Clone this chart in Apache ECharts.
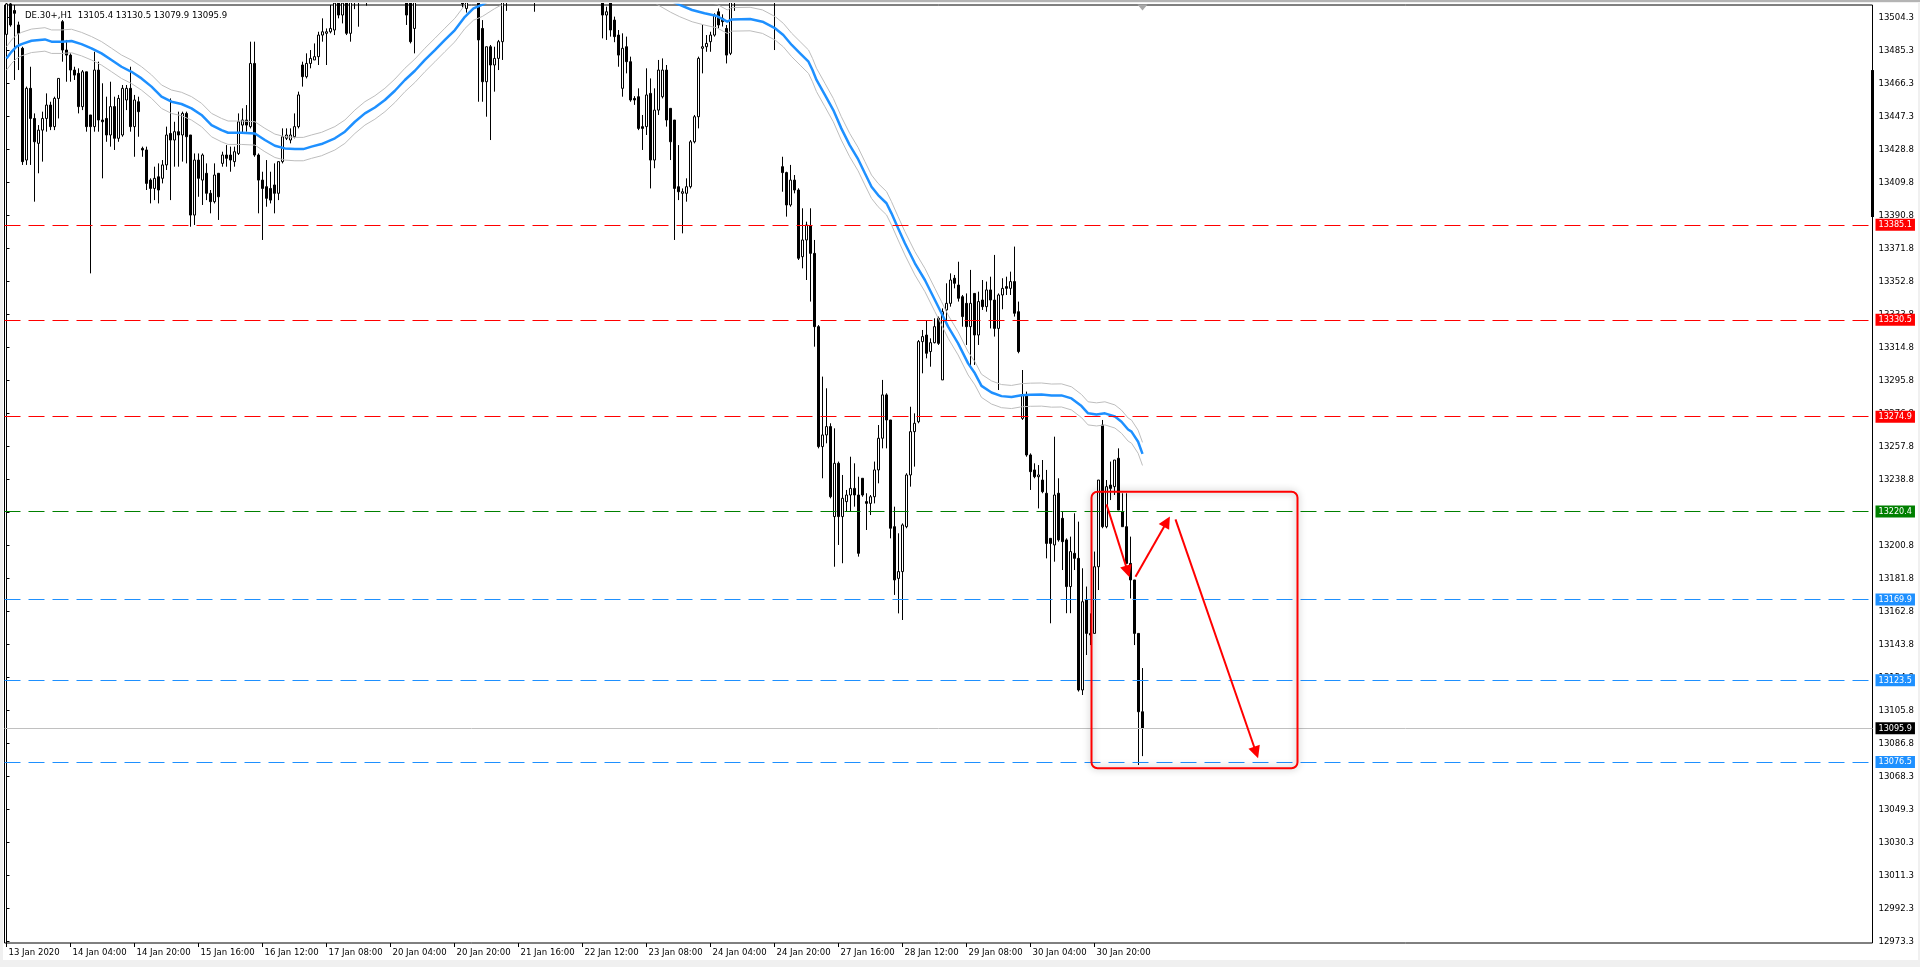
<!DOCTYPE html>
<html>
<head>
<meta charset="utf-8">
<title>DE.30+,H1</title>
<script src="https://cdn.jsdelivr.net/npm/echarts@6/dist/echarts.min.js"></script>
<style>
  html, body { margin: 0; padding: 0; width: 1920px; height: 967px; overflow: hidden; background: #f0f0f0; }
  #topbar { position: absolute; left: 0; top: 0; width: 1920px; height: 2px; background: #b4b4b4; }
  #chart { position: absolute; left: 3px; top: 3px; width: 1915px; height: 957px; background: #fff; }
</style>
</head>
<body>
<div id="topbar"></div>
<div id="chart"></div>
<script>
// header text as shown by the terminal
const headerText = 'DE.30+,H1  13105.4 13130.5 13079.9 13095.9'

// time axis labels and the bar each one sits on
const xTickLabels = ['13 Jan 2020', '14 Jan 04:00', '14 Jan 20:00', '15 Jan 16:00', '16 Jan 12:00', '17 Jan 08:00',
  '20 Jan 04:00', '20 Jan 20:00', '21 Jan 16:00', '22 Jan 12:00', '23 Jan 08:00', '24 Jan 04:00', '24 Jan 20:00',
  '27 Jan 16:00', '28 Jan 12:00', '29 Jan 08:00', '30 Jan 04:00', '30 Jan 20:00']
const xTickBars = [0, 16, 32, 48, 64, 80, 96, 112, 128, 144, 160, 176, 192, 208, 224, 240, 256, 272]

// price scale labels, bottom to top
const yTickLabels = ['12973.3', '12992.3', '13011.3', '13030.3', '13049.3', '13068.3', '13086.8', '13105.8',
  '13124.8', '13143.8', '13162.8', '13181.8', '13200.8', '13219.8', '13238.8', '13257.8', '13276.8', '13295.8',
  '13314.8', '13333.8', '13352.8', '13371.8', '13390.8', '13409.8', '13428.8', '13447.3', '13466.3', '13485.3', '13504.3']

// H1 candles: [open, close, low, high]
const candles = [
  [13494.5, 13512.0, 13493.2, 13515.0], [13512.0, 13499.9, 13498.9, 13514.0], [13508.2, 13506.6, 13468.3, 13511.4],
  [13499.9, 13495.1, 13474.0, 13501.8], [13486.5, 13421.4, 13419.5, 13487.4], [13422.3, 13463.5, 13419.5, 13464.5],
  [13463.5, 13446.2, 13419.5, 13475.9], [13446.2, 13432.8, 13398.4, 13449.1], [13431.9, 13439.5, 13414.7, 13442.4],
  [13439.5, 13446.2, 13421.4, 13450.1], [13446.2, 13453.9, 13438.6, 13460.6], [13453.9, 13441.5, 13439.5, 13455.8],
  [13441.5, 13457.7, 13439.5, 13458.7], [13457.7, 13469.2, 13446.2, 13469.2], [13501.8, 13485.5, 13478.8, 13502.7],
  [13485.5, 13482.6, 13467.3, 13491.3], [13482.6, 13474.0, 13467.3, 13483.6], [13474.0, 13471.1, 13468.3, 13475.9],
  [13472.1, 13453.0, 13449.1, 13475.0], [13453.0, 13473.0, 13451.0, 13474.0], [13473.0, 13441.5, 13438.6, 13473.0],
  [13448.2, 13441.5, 13357.2, 13448.2], [13441.5, 13474.0, 13438.6, 13484.5], [13474.0, 13445.3, 13438.6, 13478.8],
  [13445.3, 13444.3, 13411.8, 13466.4], [13446.2, 13436.7, 13432.8, 13458.7], [13436.7, 13453.0, 13430.0, 13467.3],
  [13453.0, 13434.8, 13428.1, 13458.7], [13434.8, 13457.7, 13432.8, 13459.7], [13436.7, 13463.5, 13435.7, 13465.4],
  [13456.8, 13463.5, 13451.0, 13465.4], [13463.5, 13441.5, 13438.6, 13475.9], [13441.5, 13456.8, 13424.2, 13459.7],
  [13455.8, 13450.1, 13435.7, 13458.7], [13429.0, 13428.1, 13424.2, 13430.0], [13428.1, 13408.9, 13405.1, 13430.0],
  [13410.8, 13406.0, 13397.4, 13411.8], [13406.0, 13411.8, 13399.3, 13418.5], [13412.7, 13405.1, 13397.4, 13420.4],
  [13411.8, 13419.5, 13408.9, 13422.3], [13419.5, 13436.7, 13416.6, 13441.5], [13437.6, 13433.8, 13399.3, 13457.7],
  [13433.8, 13438.6, 13418.5, 13444.3], [13438.6, 13436.7, 13418.5, 13450.1], [13436.7, 13449.1, 13421.4, 13450.1],
  [13449.1, 13435.7, 13420.4, 13450.1], [13436.7, 13390.7, 13384.0, 13436.7], [13390.7, 13422.3, 13385.0, 13426.1],
  [13422.3, 13411.8, 13401.2, 13426.1], [13410.8, 13425.2, 13396.5, 13426.1], [13414.7, 13403.2, 13399.3, 13420.4],
  [13403.2, 13398.4, 13391.7, 13405.1], [13398.4, 13413.7, 13397.4, 13420.4], [13414.7, 13401.2, 13387.9, 13414.7],
  [13420.4, 13425.2, 13418.5, 13427.1], [13425.2, 13423.3, 13418.5, 13430.9], [13425.2, 13422.3, 13415.6, 13430.0],
  [13421.4, 13427.1, 13418.5, 13430.0], [13426.1, 13444.3, 13425.2, 13449.1], [13442.4, 13445.3, 13437.6, 13452.0],
  [13445.3, 13442.4, 13438.6, 13453.9], [13441.5, 13477.8, 13440.5, 13490.3], [13477.8, 13425.2, 13424.2, 13490.3],
  [13425.2, 13410.8, 13391.7, 13426.1], [13410.8, 13406.0, 13376.4, 13415.6], [13407.0, 13400.3, 13395.5, 13422.3],
  [13406.0, 13399.3, 13397.4, 13415.6], [13408.0, 13403.2, 13391.7, 13420.4], [13403.2, 13421.4, 13399.3, 13421.4],
  [13421.4, 13435.7, 13420.4, 13440.5], [13434.8, 13436.7, 13433.8, 13440.5], [13433.8, 13436.7, 13431.9, 13440.5],
  [13435.7, 13441.5, 13434.8, 13449.1], [13441.5, 13459.7, 13440.5, 13461.6], [13476.9, 13470.2, 13464.5, 13478.8],
  [13470.2, 13477.8, 13469.2, 13483.6], [13477.8, 13480.7, 13475.0, 13485.5], [13479.8, 13481.7, 13479.8, 13489.3],
  [13481.7, 13494.1, 13476.9, 13496.0], [13494.1, 13496.0, 13490.3, 13503.7], [13495.1, 13496.0, 13476.9, 13497.9],
  [13496.0, 13497.9, 13495.1, 13511.4], [13497.0, 13512.5, 13494.1, 13516.0], [13513.0, 13505.6, 13503.7, 13517.0],
  [13505.6, 13512.5, 13500.8, 13515.0], [13514.0, 13495.1, 13494.1, 13518.0], [13495.1, 13513.0, 13490.3, 13518.0],
  [13513.0, 13520.0, 13509.0, 13524.0], [13520.0, 13514.0, 13498.9, 13523.0], [13514.0, 13522.0, 13512.0, 13526.0],
  [13522.0, 13518.0, 13511.0, 13528.0], [13518.0, 13525.0, 13512.0, 13530.0], [13525.0, 13521.0, 13512.0, 13529.0],
  [13521.0, 13528.0, 13514.0, 13533.0], [13530.0, 13534.0, 13525.0, 13538.0], [13534.0, 13531.0, 13526.0, 13537.0],
  [13531.0, 13536.0, 13528.0, 13540.0], [13536.0, 13533.0, 13527.0, 13539.0], [13533.0, 13538.0, 13530.0, 13542.0],
  [13538.0, 13530.0, 13522.0, 13541.0], [13525.0, 13505.6, 13499.9, 13530.0], [13520.0, 13490.3, 13489.3, 13524.0],
  [13497.9, 13516.0, 13483.6, 13520.0], [13516.0, 13525.0, 13512.0, 13529.0], [13525.0, 13530.0, 13519.0, 13535.0],
  [13530.0, 13527.0, 13521.0, 13534.0], [13527.0, 13535.0, 13523.0, 13539.0], [13535.0, 13532.0, 13526.0, 13538.0],
  [13532.0, 13538.0, 13528.0, 13542.0], [13538.0, 13541.0, 13533.0, 13546.0], [13541.0, 13536.0, 13530.0, 13545.0],
  [13536.0, 13542.0, 13532.0, 13547.0], [13542.0, 13539.0, 13533.0, 13546.0], [13539.0, 13544.0, 13535.0, 13549.0],
  [13526.0, 13512.0, 13510.0, 13530.0], [13509.4, 13520.0, 13507.0, 13524.0], [13520.0, 13526.0, 13515.0, 13530.0],
  [13526.0, 13522.0, 13515.0, 13529.0], [13522.0, 13491.3, 13455.8, 13525.0], [13497.9, 13467.3, 13455.8, 13502.7],
  [13467.3, 13487.4, 13447.2, 13487.4], [13487.4, 13476.9, 13433.8, 13488.4], [13476.9, 13480.7, 13461.6, 13487.4],
  [13480.7, 13490.3, 13474.0, 13491.3], [13490.3, 13513.0, 13479.8, 13518.0], [13513.0, 13522.0, 13508.0, 13526.0],
  [13522.0, 13528.0, 13517.0, 13532.0], [13528.0, 13524.0, 13518.0, 13531.0], [13524.0, 13532.0, 13520.0, 13536.0],
  [13532.0, 13529.0, 13523.0, 13535.0], [13529.0, 13535.0, 13525.0, 13539.0], [13535.0, 13527.0, 13520.0, 13538.0],
  [13527.0, 13518.0, 13507.5, 13530.0], [13518.0, 13524.0, 13514.0, 13528.0], [13530.0, 13536.0, 13526.0, 13540.0],
  [13536.0, 13541.0, 13531.0, 13545.0], [13541.0, 13538.0, 13532.0, 13544.0], [13538.0, 13544.0, 13534.0, 13548.0],
  [13544.0, 13540.0, 13535.0, 13547.0], [13540.0, 13546.0, 13536.0, 13550.0], [13546.0, 13542.0, 13537.0, 13549.0],
  [13542.0, 13537.0, 13530.0, 13545.0], [13537.0, 13541.0, 13532.0, 13545.0], [13541.0, 13534.0, 13528.0, 13543.0],
  [13534.0, 13539.0, 13529.0, 13543.0], [13539.0, 13531.0, 13525.0, 13541.0], [13531.0, 13526.0, 13519.0, 13534.0],
  [13526.0, 13520.0, 13514.0, 13529.0], [13520.0, 13516.0, 13512.0, 13524.0], [13516.0, 13505.6, 13492.2, 13522.0],
  [13505.6, 13507.5, 13491.3, 13510.4], [13513.0, 13497.0, 13493.2, 13518.0], [13502.7, 13493.2, 13490.0, 13504.7],
  [13494.1, 13482.6, 13475.9, 13497.0], [13463.5, 13486.5, 13458.7, 13495.1], [13487.4, 13478.8, 13472.1, 13493.2],
  [13478.8, 13456.8, 13455.8, 13481.7], [13457.7, 13456.8, 13454.0, 13459.0], [13458.7, 13440.5, 13439.5, 13463.5],
  [13441.5, 13440.5, 13428.1, 13448.2], [13441.5, 13459.7, 13436.7, 13475.0], [13460.6, 13422.3, 13406.0, 13469.2],
  [13422.3, 13451.0, 13417.6, 13463.5], [13451.0, 13474.0, 13448.2, 13479.8], [13458.7, 13474.0, 13457.7, 13480.7],
  [13474.0, 13445.3, 13441.5, 13476.9], [13452.0, 13432.8, 13422.3, 13452.0], [13445.3, 13406.0, 13376.4, 13445.3],
  [13407.0, 13404.1, 13399.3, 13430.9], [13403.2, 13404.1, 13380.2, 13406.0], [13403.2, 13407.0, 13398.4, 13411.8],
  [13407.0, 13432.8, 13406.0, 13433.8], [13432.8, 13447.2, 13431.9, 13448.2], [13447.2, 13480.7, 13440.5, 13481.7],
  [13486.5, 13487.4, 13472.1, 13499.9], [13487.4, 13489.3, 13484.5, 13494.1], [13490.3, 13494.1, 13484.5, 13496.0],
  [13494.1, 13505.6, 13493.2, 13506.6], [13507.5, 13499.9, 13497.9, 13509.4], [13503.7, 13501.8, 13499.0, 13506.0],
  [13497.9, 13482.6, 13477.8, 13499.9], [13483.6, 13513.0, 13482.6, 13518.0], [13513.0, 13522.0, 13508.0, 13526.0],
  [13522.0, 13530.0, 13518.0, 13534.0], [13530.0, 13537.0, 13525.0, 13541.0], [13537.0, 13534.0, 13528.0, 13540.0],
  [13534.0, 13541.0, 13530.0, 13545.0], [13541.0, 13547.0, 13536.0, 13551.0], [13547.0, 13543.0, 13537.0, 13550.0],
  [13543.0, 13548.0, 13539.0, 13553.0], [13548.0, 13540.0, 13534.0, 13551.0], [13540.0, 13532.0, 13524.0, 13543.0],
  [13532.0, 13520.0, 13485.5, 13536.0], [13520.0, 13526.0, 13514.0, 13529.0], [13418.5, 13415.1, 13404.1, 13424.2],
  [13415.1, 13396.5, 13389.8, 13415.6], [13396.5, 13410.8, 13395.5, 13419.5], [13410.8, 13405.1, 13403.2, 13413.7],
  [13405.1, 13365.9, 13364.9, 13406.1], [13366.8, 13376.4, 13360.1, 13394.6], [13376.4, 13385.0, 13353.4, 13386.9],
  [13384.4, 13368.7, 13341.0, 13394.6], [13368.7, 13326.6, 13315.1, 13376.4], [13326.6, 13257.7, 13256.7, 13327.5],
  [13257.7, 13264.4, 13239.5, 13297.9], [13264.4, 13269.2, 13259.6, 13291.2], [13269.2, 13228.9, 13228.0, 13271.1],
  [13217.5, 13248.1, 13188.7, 13268.2], [13248.1, 13217.5, 13201.2, 13249.1], [13217.5, 13228.0, 13190.7, 13241.4],
  [13226.1, 13229.9, 13220.3, 13232.8], [13229.9, 13233.7, 13220.3, 13251.9], [13233.7, 13229.9, 13223.2, 13248.1],
  [13229.9, 13196.4, 13194.5, 13240.4], [13239.5, 13229.9, 13228.9, 13239.5], [13226.1, 13225.1, 13209.8, 13230.9],
  [13225.1, 13228.9, 13218.4, 13229.9], [13228.9, 13244.3, 13225.1, 13249.1], [13244.3, 13262.5, 13236.6, 13270.1],
  [13262.5, 13287.4, 13256.7, 13296.0], [13287.4, 13273.0, 13256.7, 13288.3], [13273.0, 13210.8, 13205.0, 13273.0],
  [13211.7, 13181.1, 13172.5, 13223.2], [13182.0, 13185.9, 13161.9, 13207.9], [13185.9, 13212.7, 13158.1, 13213.6],
  [13211.7, 13241.4, 13210.8, 13242.4], [13241.4, 13266.3, 13234.7, 13280.6], [13266.3, 13271.1, 13246.2, 13276.8],
  [13272.0, 13318.0, 13271.1, 13318.9], [13318.0, 13320.9, 13299.8, 13324.7], [13321.8, 13311.3, 13308.4, 13330.4],
  [13312.3, 13317.4, 13303.6, 13319.9], [13317.4, 13326.6, 13317.0, 13331.4], [13331.4, 13317.0, 13316.1, 13332.4],
  [13296.0, 13335.2, 13296.0, 13337.1], [13336.2, 13340.0, 13330.4, 13351.5], [13340.0, 13353.4, 13338.1, 13357.2],
  [13354.4, 13351.5, 13348.6, 13356.3], [13350.5, 13342.9, 13341.0, 13363.9], [13343.8, 13332.4, 13326.6, 13344.8],
  [13340.0, 13326.6, 13316.1, 13345.7], [13326.6, 13340.0, 13303.6, 13359.2], [13345.7, 13321.8, 13304.6, 13345.7],
  [13321.8, 13341.0, 13316.1, 13346.7], [13341.9, 13338.1, 13336.2, 13353.4], [13338.1, 13347.7, 13335.2, 13352.5],
  [13347.7, 13341.9, 13325.6, 13355.3], [13341.9, 13325.6, 13320.9, 13367.8], [13325.6, 13344.8, 13290.2, 13345.7],
  [13344.8, 13348.6, 13336.6, 13354.4], [13349.6, 13348.6, 13344.8, 13355.3], [13348.6, 13352.5, 13344.8, 13358.2],
  [13352.5, 13334.3, 13332.4, 13372.6], [13335.2, 13312.3, 13311.3, 13341.0], [13273.9, 13287.4, 13273.0, 13301.7],
  [13287.4, 13252.9, 13251.9, 13289.3], [13252.9, 13243.3, 13232.8, 13253.8], [13244.3, 13240.4, 13239.5, 13248.1],
  [13240.4, 13241.4, 13222.2, 13247.1], [13238.5, 13231.8, 13230.9, 13250.0], [13230.9, 13202.1, 13193.5, 13244.3],
  [13205.0, 13202.1, 13156.2, 13205.0], [13201.2, 13229.9, 13191.6, 13263.4], [13230.9, 13204.1, 13203.1, 13239.5],
  [13216.5, 13203.1, 13186.8, 13220.3], [13204.1, 13177.3, 13162.0, 13205.0], [13177.3, 13197.4, 13162.0, 13206.0],
  [13196.4, 13193.5, 13186.8, 13219.4], [13193.5, 13117.9, 13117.0, 13214.6], [13117.9, 13168.6, 13115.0, 13187.8],
  [13169.6, 13150.4, 13138.0, 13177.3], [13150.4, 13149.5, 13143.7, 13161.9], [13150.4, 13188.7, 13150.4, 13197.4],
  [13188.7, 13238.5, 13175.3, 13238.5], [13270.1, 13211.7, 13210.8, 13273.0], [13211.7, 13234.7, 13210.8, 13238.5],
  [13235.6, 13233.7, 13227.0, 13249.1], [13234.7, 13250.0, 13229.9, 13250.0], [13251.0, 13221.3, 13221.3, 13256.7],
  [13220.3, 13211.7, 13211.7, 13230.9], [13211.7, 13190.6, 13190.6, 13230.9], [13190.6, 13181.1, 13170.5, 13206.0],
  [13181.1, 13150.4, 13143.7, 13181.1], [13150.4, 13105.4, 13074.8, 13150.4], [13105.4, 13095.9, 13079.9, 13130.5]
]

// moving average: bar position and value
const maBars = [0, 1.25, 2.5, 3.75, 6.25, 9.6, 11.25, 13.75, 16.25, 18.75, 21.25, 23.75, 26.25, 28.75, 31.25, 33.75,
  36.25, 38.75, 41.25, 43.75, 46.25, 48.75, 51.25, 53.75, 55.4, 58.75, 62.1, 64.6, 67.1, 69.6, 72.1, 74.2, 76.25,
  78.75, 82.1, 84.6, 87.1, 89.6, 92.1, 94.6, 97.1, 99.6, 102.1, 104.6, 107.1, 109.6, 112.1, 114.6, 116.75, 119,
  122, 130, 140, 150, 160, 166, 168.3, 171.4, 174.5, 177.6, 180.2, 181.3, 185.9, 189, 192.2, 194.2, 196.3, 198.4,
  200.5, 201.5, 202.5, 204.6, 206.7, 208.7, 210.8, 212.9, 214.6, 216.25, 217.9, 220, 221.25, 222.9, 224.6, 227.1,
  229.6, 232.1, 233.75, 235.4, 237.9, 240.4, 242.1, 243.75, 246.25, 248.75, 251.25, 253.75, 256, 258.75, 261.25,
  263.75, 266.25, 268.75, 270.4, 272.5, 274.6, 277.1, 278.75, 280.4, 281.25, 282.9, 284]
const maValues = [13480.7, 13484.5, 13487.4, 13488.9, 13490.8, 13491.6, 13490.3, 13490.3, 13490.7, 13488.9, 13486.5,
  13483.6, 13479.8, 13475.9, 13473.0, 13469.2, 13464.5, 13458.7, 13455.8, 13454.5, 13452.0, 13448.2, 13442.4, 13439.5,
  13438.0, 13438.0, 13437.6, 13433.8, 13430.5, 13429.0, 13428.6, 13428.6, 13430.0, 13431.5, 13434.8, 13438.6, 13444.3,
  13449.1, 13452.5, 13456.8, 13462.1, 13468.3, 13473.6, 13479.8, 13485.5, 13491.3, 13497.0, 13504.6, 13509.4, 13511.6,
  13516.0, 13526.0, 13531.0, 13530.0, 13522.0, 13514.0, 13511.4, 13508.5, 13506.6, 13505.0, 13501.8, 13503.1, 13503.3,
  13501.8, 13497.9, 13494.1, 13488.4, 13483.6, 13478.8, 13474.0, 13468.3, 13459.7, 13451.0, 13440.5, 13430.9, 13422.8,
  13414.7, 13407.0, 13402.2, 13397.5, 13391.7, 13383.1, 13374.5, 13363.0, 13353.4, 13341.9, 13334.3, 13326.6, 13317.0,
  13305.5, 13299.8, 13292.6, 13288.8, 13286.7, 13286.2, 13287.2, 13287.5, 13287.6, 13287.0, 13287.1, 13285.4, 13281.0,
  13276.8, 13276.2, 13276.8, 13275.0, 13272.0, 13267.5, 13266.3, 13260.5, 13253.5]
const envelopePct = 0.05

// horizontal levels drawn on the chart
const resistanceLevels = [13385.1, 13330.5, 13274.9]
const pivotLevels = [13220.4]
const supportLevels = [13169.9, 13123.5, 13076.5]
const bidPrice = 13095.9

// hand-drawn projection: box [barFrom, priceTop, barTo, priceBottom] and arrows [[bar, price], [bar, price]]
const projectionBox = [271.25, 13231.8, 322.75, 13072.9]
const projectionArrows = [
  [[275.0, 13224.5], [280.3, 13186.0]],
  [[282.25, 13183.0], [290.1, 13214.6]],
  [[292.25, 13215.9], [312.4, 13082.0]]
]
// highlighted stretch of the price scale and the chart-shift marker
const scaleMarker = [13474.0, 13389.6]
const shiftMarker = [284, 13509.9]

const FONT = "'DejaVu Sans Condensed', 'Liberation Sans', sans-serif"
const N_SLOTS = 467
const yMin = 12972.56
const yMax = 13511.37
const yFirstTick = Number(yTickLabels[0])
const yTickStep = (Number(yTickLabels[yTickLabels.length - 1]) - yFirstTick) / (yTickLabels.length - 1)
const yTickVals = yTickLabels.map((t, k) => yFirstTick + k * yTickStep)

const categories = Array.from({ length: N_SLOTS }, (_, i) => String(i))
const labelAt = {}
xTickBars.forEach((b, k) => { labelAt[b] = xTickLabels[k] })
const showAt = (idx) => labelAt[idx] !== undefined

const maData = maBars.map((b, i) => [b, maValues[i]])
const upperData = maBars.map((b, i) => [b, maValues[i] * (1 + envelopePct / 100)])
const lowerData = maBars.map((b, i) => [b, maValues[i] * (1 - envelopePct / 100)])

function levelLine(value, color, type, labelBg) {
  return {
    yAxis: value,
    lineStyle: { color: color, type: type, width: 1 },
    label: {
      show: true,
      position: 'end',
      distance: 3,
      formatter: () => value.toFixed(1),
      color: '#fff',
      backgroundColor: labelBg,
      padding: [2, 3, 1, 3],
      fontSize: 9,
      fontFamily: FONT
    }
  }
}

const levelData = []
resistanceLevels.forEach(v => levelData.push(levelLine(v, '#FF0000', [16, 8], '#FF0000')))
pivotLevels.forEach(v => levelData.push(levelLine(v, '#008000', [16, 8], '#008000')))
supportLevels.forEach(v => levelData.push(levelLine(v, '#1E90FF', [16, 8], '#1E90FF')))
levelData.push(levelLine(bidPrice, '#C0C0C0', 'solid', '#000'))

const chart = echarts.init(document.getElementById('chart'))
const option = {
  animation: false,
  backgroundColor: '#fff',
  title: {
    text: headerText,
    left: 17,
    top: 3,
    textStyle: { fontSize: 9.5, fontWeight: 'normal', color: '#000', fontFamily: FONT }
  },
  grid: {
    left: 1.5,
    right: 45.5,
    top: 2,
    bottom: 17,
    show: true,
    borderColor: '#000',
    borderWidth: 1,
    backgroundColor: '#fff'
  },
  xAxis: [
    {
      type: 'category',
      data: categories,
      boundaryGap: true,
      axisLine: { show: false },
      axisTick: { show: true, alignWithLabel: true, interval: showAt, length: 4, lineStyle: { color: '#000' } },
      axisLabel: {
        interval: showAt,
        formatter: (v, idx) => labelAt[idx] || '',
        align: 'left',
        margin: 5,
        padding: [0, 0, 0, 2],
        color: '#000',
        fontSize: 9.5,
        fontFamily: FONT
      },
      splitLine: { show: false }
    },
    { type: 'value', min: -0.5, max: N_SLOTS - 0.5, show: false }
  ],
  yAxis: {
    type: 'value',
    position: 'right',
    min: yMin,
    max: yMax,
    axisLine: { show: true, lineStyle: { color: '#000' } },
    axisTick: { show: true, customValues: yTickVals, length: 3, lineStyle: { color: '#000' } },
    axisLabel: {
      customValues: yTickVals,
      formatter: (v) => yTickLabels[Math.round((v - yFirstTick) / yTickStep)],
      margin: 6,
      color: '#000',
      fontSize: 9.5,
      fontFamily: FONT
    },
    splitLine: { show: false }
  },
  series: [
    {
      name: 'DE.30+',
      type: 'candlestick',
      xAxisIndex: 0,
      data: candles.map(c => [c[0], c[1], c[2], c[3]]),
      barWidth: 2,
      clip: true,
      z: 2,
      itemStyle: {
        color: '#fff',
        color0: '#000',
        borderColor: '#000',
        borderColor0: '#000',
        borderColorDoji: '#000',
        borderWidth: 1
      },
      markLine: {
        silent: true,
        symbol: ['none', 'none'],
        animation: false,
        data: levelData
      }
    },
    {
      name: 'Envelope upper',
      type: 'line',
      xAxisIndex: 1,
      data: upperData,
      symbol: 'none',
      silent: true,
      clip: true,
      z: 3,
      lineStyle: { color: '#BDBDBD', width: 1 }
    },
    {
      name: 'Envelope lower',
      type: 'line',
      xAxisIndex: 1,
      data: lowerData,
      symbol: 'none',
      silent: true,
      clip: true,
      z: 3,
      lineStyle: { color: '#BDBDBD', width: 1 }
    },
    {
      name: 'MA',
      type: 'line',
      xAxisIndex: 1,
      data: maData,
      symbol: 'none',
      silent: true,
      clip: true,
      z: 4,
      lineStyle: { color: '#1E90FF', width: 2.5 },
      markLine: {
        silent: true,
        symbol: ['none', 'none'],
        label: { show: false },
        lineStyle: { color: '#000', width: 3, type: 'solid' },
        data: [[{ coord: [N_SLOTS - 0.5, scaleMarker[0]] }, { coord: [N_SLOTS - 0.5, scaleMarker[1]] }]]
      },
      markPoint: {
        silent: true,
        symbol: 'triangle',
        symbolRotate: 180,
        symbolSize: [10, 6],
        itemStyle: { color: '#a8a8a8' },
        label: { show: false },
        data: [{ coord: shiftMarker }]
      }
    },
    {
      name: 'Box',
      type: 'custom',
      xAxisIndex: 1,
      silent: true,
      z: 5,
      data: [projectionBox],
      encode: { x: [0, 2], y: [1, 3] },
      renderItem: (params, api) => {
        const p0 = api.coord([api.value(0), api.value(1)])
        const p1 = api.coord([api.value(2), api.value(3)])
        return {
          type: 'rect',
          shape: { x: p0[0], y: p0[1], width: p1[0] - p0[0], height: p1[1] - p0[1], r: 6 },
          style: { fill: 'none', stroke: '#FF0000', lineWidth: 2, shadowBlur: 7, shadowColor: 'rgba(0,0,0,0.35)' }
        }
      }
    },
    {
      name: 'Arrows',
      type: 'lines',
      coordinateSystem: 'cartesian2d',
      xAxisIndex: 1,
      yAxisIndex: 0,
      silent: true,
      z: 6,
      symbol: ['none', 'triangle'],
      symbolSize: 12,
      lineStyle: { color: '#FF0000', width: 2, opacity: 1 },
      data: projectionArrows.map(a => ({ coords: a }))
    }
  ]
}
chart.setOption(option)
</script>
</body>
</html>
